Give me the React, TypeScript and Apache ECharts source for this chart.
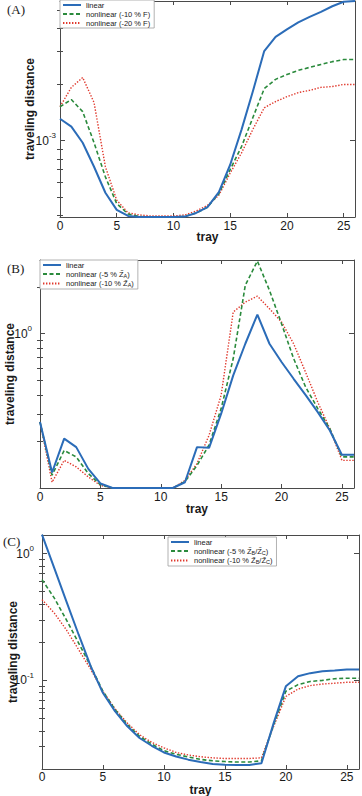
import React, { useEffect, useRef } from "react";
import * as echarts from "echarts";

// Tray index along the column (x axis of every panel)
const trays = [0, 1, 2, 3, 4, 5, 6, 7, 8, 9, 10, 11, 12, 13, 14, 15, 16, 17, 18, 19, 20, 21, 22, 23, 24, 25, 26];
const xTicks = [0, 5, 10, 15, 20, 25];

// (A) feed flow perturbation
const namesA = ["linear", "nonlinear (-10 % F)", "nonlinear (-20 % F)"];
const linearA = [1.31e-3, 1.19e-3, 0.975e-3, 0.725e-3, 0.526e-3, 0.426e-3, 0.395e-3, 0.39e-3, 0.39e-3, 0.39e-3, 0.39e-3, 0.392e-3, 0.41e-3, 0.44e-3, 0.53e-3, 0.743e-3, 1.146e-3, 1.84e-3, 3.02e-3, 3.6e-3, 3.95e-3, 4.3e-3, 4.6e-3, 4.9e-3, 5.25e-3, 5.55e-3, 5.6e-3];
const nonlin10A = [1.52e-3, 1.66e-3, 1.43e-3, 0.975e-3, 0.64e-3, 0.46e-3, 0.405e-3, 0.392e-3, 0.39e-3, 0.39e-3, 0.39e-3, 0.393e-3, 0.41e-3, 0.44e-3, 0.52e-3, 0.7e-3, 0.93e-3, 1.33e-3, 1.9e-3, 2.13e-3, 2.26e-3, 2.38e-3, 2.47e-3, 2.56e-3, 2.65e-3, 2.72e-3, 2.72e-3];
const nonlin20A = [1.52e-3, 1.93e-3, 2.18e-3, 1.6e-3, 0.725e-3, 0.48e-3, 0.41e-3, 0.4e-3, 0.395e-3, 0.395e-3, 0.395e-3, 0.4e-3, 0.42e-3, 0.45e-3, 0.51e-3, 0.67e-3, 0.86e-3, 1.15e-3, 1.5e-3, 1.62e-3, 1.72e-3, 1.81e-3, 1.86e-3, 1.93e-3, 1.95e-3, 2.0e-3, 2.0e-3];
const rangeA = [3.9e-4, 5.6e-3];
const majorA = [1e-3];
const minorA = [4e-4, 5e-4, 6e-4, 7e-4, 8e-4, 9e-4, 2e-3, 3e-3, 4e-3, 5e-3];

// (B) perturbation of Z_A
const namesB = ["linear", "nonlinear (-5 % Z\u0303_A)", "nonlinear (-10 % Z\u0303_A)"];
const linearB = [0.268, 0.126, 0.209, 0.184, 0.133, 0.107, 0.1, 0.1, 0.1, 0.1, 0.1, 0.1, 0.109, 0.184, 0.182, 0.303, 0.537, 0.86, 1.33, 0.86, 0.655, 0.51, 0.4, 0.31, 0.236, 0.164, 0.164];
const nonlin5B = [0.268, 0.121, 0.175, 0.159, 0.124, 0.105, 0.1, 0.1, 0.1, 0.1, 0.1, 0.1, 0.11, 0.14, 0.19, 0.327, 0.69, 2.06, 2.95, 1.91, 1.16, 0.69, 0.45, 0.327, 0.242, 0.159, 0.159];
const nonlin10B = [0.268, 0.109, 0.151, 0.137, 0.118, 0.104, 0.1, 0.1, 0.1, 0.1, 0.1, 0.1, 0.112, 0.144, 0.22, 0.4, 1.38, 1.6, 1.75, 1.45, 1.19, 0.86, 0.56, 0.36, 0.242, 0.151, 0.151];
const rangeB = [0.1, 3];
const majorB = [1];
const minorB = [0.2, 0.3, 0.4, 0.5, 0.6, 0.7, 0.8, 0.9, 2];

// (C) perturbation of Z_B/Z_C
const namesC = ["linear", "nonlinear (-5 % Z\u0303_B/Z\u0303_C)", "nonlinear (-10 % Z\u0303_B/Z\u0303_C)"];
const linearC = [1.41, 0.77, 0.42, 0.23, 0.129, 0.0794, 0.0569, 0.0434, 0.0351, 0.0305, 0.027, 0.0251, 0.0237, 0.0227, 0.0219, 0.0216, 0.0215, 0.0215, 0.0222, 0.046, 0.0897, 0.1076, 0.114, 0.118, 0.1197, 0.1216, 0.1216];
const nonlin5C = [0.623, 0.447, 0.3, 0.197, 0.129, 0.082, 0.0587, 0.0446, 0.0362, 0.0314, 0.0279, 0.0261, 0.0249, 0.0238, 0.0232, 0.0229, 0.0227, 0.0227, 0.0232, 0.0446, 0.082, 0.0926, 0.098, 0.1, 0.103, 0.104, 0.104];
const nonlin10C = [0.433, 0.34, 0.25, 0.175, 0.122, 0.082, 0.0595, 0.046, 0.0373, 0.0324, 0.0294, 0.027, 0.0258, 0.025, 0.0245, 0.0242, 0.0242, 0.0242, 0.0245, 0.0434, 0.0746, 0.0854, 0.0909, 0.0935, 0.095, 0.0965, 0.0965];
const rangeC = [0.02, 1.4];
const majorC = [0.1, 1];
const minorC = [0.03, 0.04, 0.05, 0.06, 0.07, 0.08, 0.09, 0.2, 0.3, 0.4, 0.5, 0.6, 0.7, 0.8, 0.9];

const SANS = "'Liberation Sans', Arial, Helvetica, sans-serif";
const AXIS_COLOR = "#4a4a4a";
const TEXT_COLOR = "#1a1a1a";

const lineStyles = [
  { color: "#2b6cb8", width: 2, type: "solid" as any },
  { color: "#2a8a3c", width: 1.6, type: [4, 2.5] as any },
  { color: "#e0382c", width: 1.4, type: [1.4, 1.6] as any },
];

interface Panel {
  grid: { left: number; right: number; top: number; height: number };
  range: number[];
  major: number[];
  minor: number[];
  names: string[];
  values: number[][];
  yLabelMargin: number;
  yNameGap: number;
  xLabelMargin: number;
  xNameGap: number;
  legend: { left: number; top: number };
  tag: string;
  tagPos: [number, number];
}

const panels: Panel[] = [
  {
    grid: { left: 60, right: 7, top: 1, height: 216 },
    range: rangeA, major: majorA, minor: minorA,
    names: namesA, values: [linearA, nonlin10A, nonlin20A],
    yLabelMargin: 4, yNameGap: 24, xLabelMargin: 3, xNameGap: 14,
    legend: { left: 60, top: 0 }, tag: "(A)", tagPos: [7, 3],
  },
  {
    grid: { left: 40, right: 8, top: 260, height: 228 },
    range: rangeB, major: majorB, minor: minorB,
    names: namesB, values: [linearB, nonlin5B, nonlin10B],
    yLabelMargin: 8, yNameGap: 24, xLabelMargin: 2.5, xNameGap: 14.5,
    legend: { left: 40, top: 260 }, tag: "(B)", tagPos: [7, 262],
  },
  {
    grid: { left: 42, right: 3, top: 535, height: 234 },
    range: rangeC, major: majorC, minor: minorC,
    names: namesC, values: [linearC, nonlin5C, nonlin10C],
    yLabelMargin: 8, yNameGap: 23, xLabelMargin: 1.5, xNameGap: 15,
    legend: { left: 168, top: 537 }, tag: "(C)", tagPos: [3, 535],
  },
];

function richName(name: string): string {
  return name.replace(/_([A-Z])/g, "{sub|$1}");
}

function buildOption() {
  const grids: any[] = [];
  const xAxes: any[] = [];
  const yAxes: any[] = [];
  const series: any[] = [];
  const legends: any[] = [];
  const graphics: any[] = [];

  panels.forEach((p, g) => {
    grids.push({ ...p.grid, outerBoundsMode: "none", containLabel: false });

    const xBase = {
      type: "value",
      gridIndex: g,
      min: 0,
      max: 26,
      splitLine: { show: false },
      axisLine: { show: true, onZero: false, lineStyle: { color: AXIS_COLOR, width: 1 } },
      axisTick: { show: true, inside: true, length: 4, customValues: xTicks, lineStyle: { color: AXIS_COLOR } },
    };
    xAxes.push({
      ...xBase,
      position: "bottom",
      name: "tray",
      nameLocation: "middle",
      nameGap: p.xNameGap,
      nameMoveOverlap: false,
      nameTextStyle: { fontFamily: SANS, fontSize: 12, fontWeight: "bold", color: TEXT_COLOR },
      axisLabel: { show: true, customValues: xTicks, margin: p.xLabelMargin, fontFamily: SANS, fontSize: 12, color: TEXT_COLOR },
    });
    xAxes.push({ ...xBase, position: "top", axisLabel: { show: false } });

    const yBase = {
      type: "log",
      logBase: 10,
      gridIndex: g,
      min: p.range[0],
      max: p.range[1],
      splitLine: { show: false },
      minorTick: { show: false },
    };
    const majorTick = { show: true, inside: true, length: 5, customValues: p.major, lineStyle: { color: AXIS_COLOR } };
    const minorTick = { show: true, inside: true, length: 3, customValues: p.minor, lineStyle: { color: AXIS_COLOR } };
    // left axis with labels and major ticks
    yAxes.push({
      ...yBase,
      position: "left",
      axisLine: { show: true, onZero: false, lineStyle: { color: AXIS_COLOR, width: 1 } },
      axisTick: majorTick,
      name: "traveling distance",
      nameLocation: "middle",
      nameRotate: 90,
      nameGap: p.yNameGap,
      nameMoveOverlap: false,
      nameTextStyle: { fontFamily: SANS, fontSize: 12, fontWeight: "bold", color: TEXT_COLOR },
      axisLabel: {
        show: true,
        customValues: p.major,
        margin: p.yLabelMargin,
        formatter: (v: number) => `{b|10}{s|${Math.round(Math.log10(v))}}`,
        rich: {
          b: { fontFamily: SANS, fontSize: 12, color: TEXT_COLOR, lineHeight: 18 },
          s: { fontFamily: SANS, fontSize: 8, color: TEXT_COLOR, verticalAlign: "top", lineHeight: 10 },
        },
      },
    });
    // left minor ticks
    yAxes.push({ ...yBase, position: "left", axisLine: { show: false }, axisTick: minorTick, axisLabel: { show: false } });
    // right mirrored box side
    yAxes.push({
      ...yBase,
      position: "right",
      axisLine: { show: true, onZero: false, lineStyle: { color: AXIS_COLOR, width: 1 } },
      axisTick: majorTick,
      axisLabel: { show: false },
    });
    yAxes.push({ ...yBase, position: "right", axisLine: { show: false }, axisTick: minorTick, axisLabel: { show: false } });

    p.values.forEach((vals, k) => {
      series.push({
        type: "line",
        name: p.names[k],
        xAxisIndex: g * 2,
        yAxisIndex: g * 4,
        data: trays.map((t, i) => [t, vals[i]]),
        symbol: "none",
        showSymbol: false,
        clip: true,
        z: 5 - k,
        lineStyle: lineStyles[k],
        itemStyle: { color: lineStyles[k].color },
      });
    });

    legends.push({
      orient: "vertical",
      left: p.legend.left,
      top: p.legend.top,
      data: p.names,
      selectedMode: false,
      itemWidth: 18,
      itemHeight: 8,
      itemGap: 1,
      padding: [1, 4, 1, 2],
      backgroundColor: "#ffffff",
      borderColor: "#a0a0a0",
      borderWidth: 0.8,
      borderRadius: 0,
      z: 10,
      // keep only the line sample in each legend key
      itemStyle: { opacity: 0 },
      formatter: richName,
      textStyle: {
        fontFamily: SANS,
        fontSize: 7.5,
        color: TEXT_COLOR,
        rich: {
          sub: { fontFamily: SANS, fontSize: 5.5, color: TEXT_COLOR, verticalAlign: "bottom", padding: [3, 0, 0, 0] },
        },
      },
    });

    graphics.push({
      type: "text",
      x: p.tagPos[0],
      y: p.tagPos[1],
      z: 20,
      style: { text: p.tag, font: "13px 'Liberation Serif', 'Times New Roman', serif", fill: TEXT_COLOR },
    });
  });

  return {
    animation: false,
    backgroundColor: "#ffffff",
    grid: grids,
    xAxis: xAxes,
    yAxis: yAxes,
    legend: legends,
    series,
    graphic: graphics,
  };
}

export default function App() {
  const ref = useRef<HTMLDivElement>(null);
  useEffect(() => {
    if (!ref.current) return;
    const chart = echarts.init(ref.current, undefined, { renderer: "svg" });
    chart.setOption(buildOption() as any);
    return () => chart.dispose();
  }, []);
  return (
    <div
      ref={ref}
      style={{ position: "absolute", left: 0, top: 0, width: 362, height: 796, background: "#fff" }}
    />
  );
}
